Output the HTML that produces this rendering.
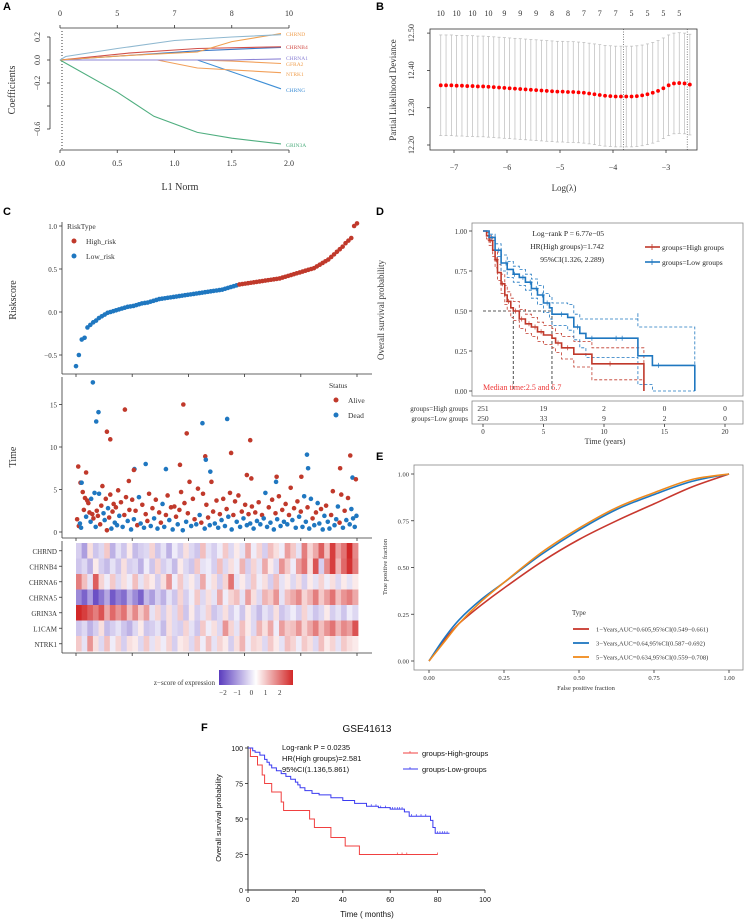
<!DOCTYPE html>
<html><head><meta charset="utf-8"><style>
html,body{margin:0;padding:0;background:#fff;}
svg{display:block;font-family:"Liberation Serif",serif;}
.s{font-family:"Liberation Sans",sans-serif;}
</style></head><body>
<svg id="fig" width="744" height="922" viewBox="0 0 744 922" xmlns="http://www.w3.org/2000/svg"></svg>
<script>
// ---------- DATA ----------
const geneCHRND=[[0,0],[0.6,0.04],[1.2,0.07],[1.5,0.16],[1.93,0.23]];
const geneTop=[[0,0],[0.05,0.03],[0.5,0.1],[1,0.17],[1.5,0.2],[1.93,0.22]];
const geneCHRNB4=[[0,0],[0.6,0.06],[1.2,0.1],[1.93,0.115]];
const geneCHRNB=[[0,0],[1.2,0.08],[1.93,0.11]];
const geneCHRNA1=[[0,0],[1.5,0],[1.93,0.01]];
const geneGFRA2=[[0,0],[1.2,0],[1.5,-0.01],[1.93,-0.03]];
const geneNTRK1=[[0,0],[0.85,0],[1.2,-0.07],[1.93,-0.11]];
const geneCHRNG=[[0,0],[1.2,0],[1.93,-0.25]];
const geneGRIN3A=[[0,0],[0.5,-0.28],[0.82,-0.49],[1.2,-0.63],[1.5,-0.68],[1.93,-0.73]];
const aTopLabels=["0","5","7","8","10"];
const aTopPos=[0,0.5,1,1.5,2];
const bLambda=[];for(let i=0;i<48;i++)bLambda.push(-7.25+i*0.1);
const bDeviance=[12.360,12.360,12.360,12.359,12.359,12.358,12.358,12.357,12.357,12.356,12.355,12.354,12.353,12.352,12.351,12.350,12.349,12.348,12.347,12.346,12.345,12.344,12.343,12.343,12.342,12.342,12.341,12.340,12.338,12.336,12.334,12.332,12.331,12.330,12.330,12.330,12.330,12.331,12.333,12.336,12.340,12.345,12.352,12.360,12.365,12.366,12.365,12.362];
const bSE=0.135;
const bTopCounts=["10","10","10","10","9","9","9","8","8","7","7","7","5","5","5","5"];
const bMinLambda=-3.8, b1seLambda=-2.6;
const riskScores=[-0.63,-0.5,-0.32,-0.3,-0.18,-0.15,-0.12,-0.1,-0.07,-0.05,-0.03,-0.01,0.0,0.01,0.02,0.03,0.04,0.05,0.06,0.065,0.07,0.08,0.09,0.1,0.105,0.11,0.12,0.13,0.14,0.15,0.155,0.16,0.165,0.17,0.175,0.18,0.185,0.19,0.195,0.2,0.205,0.21,0.215,0.22,0.225,0.23,0.235,0.24,0.245,0.25,0.255,0.26,0.27,0.28,0.29,0.3,0.31,0.32,0.325,0.33,0.335,0.34,0.345,0.35,0.355,0.36,0.365,0.37,0.375,0.38,0.385,0.39,0.4,0.41,0.42,0.43,0.44,0.45,0.46,0.47,0.48,0.49,0.5,0.51,0.53,0.55,0.57,0.59,0.61,0.64,0.67,0.7,0.73,0.76,0.8,0.83,0.86,1.0,1.03];
const riskCutoff=0.315;
const survTimes=[[30,17.6,1],[36,13.0,1],[40,14.1,1],[55,11.8,0],[61,10.9,0],[87,14.4,0],[191,15.0,0],[197,11.6,0],[225,12.8,1],[269,13.3,1],[310,10.8,0],[276,9.3,0],[411,9.1,1],[488,9.0,0],[413,7.5,1],[470,7.5,0],[4,7.7,0],[18,7.0,0],[104,7.4,1],[124,8.0,1],[160,7.4,1],[185,7.9,0],[230,8.9,0],[231,8.5,1],[239,7.1,1],[492,6.4,1],[498,6.2,0],[304,6.7,0],[312,6.3,0],[357,6.5,0],[356,5.9,1],[401,6.5,0],[94,6.0,0],[103,7.3,0],[8,5.8,0],
[2,1.5,0],[5,0.7,0],[7,1,1],[9,0.5,1],[10,5.8,1],[12,4.7,0],[14,2.6,0],[16,4,0],[18,1.8,1],[20,3.7,0],[22,3.4,0],[24,2.3,0],[26,1.2,1],[27,3.9,1],[29,2.1,0],[31,1.6,0],[33,4.6,1],[35,0.6,1],[37,2.5,0],[39,1.9,0],[41,4.5,1],[43,0.9,0],[45,3.1,0],[47,5.4,0],[49,2.2,1],[51,1.4,1],[53,3.9,0],[55,0.2,0],[57,2.8,1],[59,1.7,0],[61,4.4,0],[63,0.4,1],[65,2.4,0],[67,3.3,0],[69,1.1,1],[71,2.9,0],[73,0.8,1],[75,4.9,0],[77,1.9,1],[80,3.5,0],[83,0.6,1],[86,2.0,0],[89,4.1,0],[92,1.3,1],[95,2.6,0],[98,0.3,1],[100,3.8,0],[103,1.5,1],[106,2.5,0],[109,0.8,0],[112,4.1,1],[115,1.0,1],[118,3.2,0],[121,0.5,1],[124,2.1,0],[127,1.3,0],[130,4.5,0],[133,0.7,1],[136,2.8,0],[139,1.6,1],[142,3.8,0],[145,0.4,1],[148,2.3,0],[151,1.1,0],[154,3.3,1],[157,0.6,1],[160,2.0,0],[163,4.3,0],[166,1.4,1],[169,2.9,0],[172,0.3,1],[175,3.0,0],[178,1.8,0],[181,0.9,1],[184,2.6,0],[187,4.7,0],[190,0.2,1],[193,3.4,0],[196,1.2,1],[199,2.2,0],[202,5.9,0],[205,0.7,1],[208,3.9,0],[211,1.5,0],[214,0.9,1],[217,5.1,0],[220,2.0,1],[223,1.1,0],[226,4.5,0],[229,0.4,1],[232,3.2,0],[235,1.7,0],[238,0.8,1],[241,5.9,0],[244,2.4,0],[247,1.0,1],[250,3.7,0],[253,0.5,1],[256,2.1,0],[259,1.4,1],[262,3.9,0],[265,0.7,1],[268,2.7,0],[271,1.8,1],[274,4.6,0],[277,0.3,1],[280,2.0,0],[283,3.6,0],[286,1.2,1],[289,4.3,0],[292,0.6,1],[295,2.4,0],[298,1.6,1],[301,3.2,0],[304,0.8,1],[307,2.1,0],[310,1.0,1],[313,3.0,0],[316,0.4,1],[319,2.3,0],[322,1.3,1],[325,3.5,0],[328,0.9,1],[331,2.0,0],[334,1.6,1],[337,4.6,1],[340,0.6,1],[343,2.9,0],[346,1.1,1],[349,3.8,0],[352,0.3,1],[355,2.2,0],[358,1.5,1],[361,4.2,0],[364,0.7,1],[367,2.6,0],[370,1.2,1],[373,3.3,0],[376,0.9,1],[379,2.0,0],[382,5.2,0],[385,1.4,1],[388,2.8,0],[391,0.5,1],[394,3.6,0],[397,1.8,1],[400,2.4,0],[403,0.6,1],[406,4.2,1],[409,1.2,1],[412,2.9,0],[415,0.4,1],[418,3.9,1],[421,1.6,0],[424,0.8,1],[427,2.3,0],[430,3.4,1],[433,1.0,1],[436,2.7,0],[439,0.3,1],[442,1.9,1],[445,3.1,0],[448,1.2,1],[451,0.4,1],[454,2.0,0],[457,4.8,0],[460,0.8,1],[463,1.5,1],[466,3.0,1],[469,1.1,0],[472,4.4,0],[475,0.5,1],[478,2.5,0],[481,1.4,1],[484,4.0,0],[487,0.9,1],[490,2.7,1],[493,1.6,1],[496,0.6,1],[499,1.9,1]];
const heatGenes=["CHRND","CHRNB4","CHRNA6","CHRNA5","GRIN3A","L1CAM","NTRK1"];
const heatCHRND=[-0.5,-1,0.3,-0.6,-0.4,0.5,-0.8,-0.3,-0.6,0.2,-0.7,-0.5,-0.4,0.4,-0.6,-0.3,-0.8,-0.2,-0.5,0.3,-0.4,-0.6,0.6,-0.3,-0.5,-0.2,0.5,-0.4,0.2,-0.3,0.8,-0.2,0.4,-0.5,0.6,0.3,-0.2,0.9,0.5,-0.3,1.2,0.4,0.8,1.5,0.6,1.8,0.9,1.3,2,1.1];
const heatCHRNB4=[-0.6,-0.4,-0.8,0.2,-0.5,-0.7,-0.3,-0.6,0.3,-0.5,-0.4,-0.8,-0.2,-0.6,0.4,-0.5,-0.3,-0.7,0.2,-0.4,-0.6,0.5,-0.3,-0.2,-0.5,0.6,-0.4,0.3,-0.2,0.7,-0.5,0.4,-0.3,0.8,0.2,-0.4,1,0.5,-0.2,0.9,1.3,0.3,1.6,-0.5,1.1,1.8,0.7,1.4,1.9,1.2];
const heatCHRNA6=[1.2,0.6,-0.3,1.5,0.4,-0.2,0.5,-0.4,0.3,-0.2,0.6,-0.3,0.4,0.2,-0.5,0.3,1,-0.2,0.5,-0.3,0.2,-0.4,0.8,-0.2,0.3,-0.5,0.4,1.3,-0.3,0.2,-0.4,0.5,-0.2,0.3,-0.5,0.6,-0.3,0.2,-0.4,0.3,-0.5,0.2,-0.3,0.4,-0.2,0.3,-0.4,0.2,-0.3,0.2];
const heatCHRNA5=[-1.2,-1.6,-1,-1.8,-1.4,-0.9,-1.7,-1.3,-1.5,-0.8,-1.2,-1.6,-0.7,-1,-0.5,-0.8,-0.3,-0.6,0.4,-0.5,-0.2,0.5,-0.4,0.3,-0.3,0.8,-0.2,0.4,0.6,-0.3,0.9,0.3,-0.4,0.7,0.5,1,-0.3,0.6,0.8,1.1,0.4,0.7,1.2,0.5,0.9,1.3,0.6,1,1.2,0.8];
const heatGRIN3A=[2,1.8,1.5,1.2,1.6,0.8,1.4,1,1.3,0.6,1.1,0.5,0.9,-0.3,0.4,-0.5,0.3,-0.4,0.5,-0.6,0.2,-0.5,-0.3,0.4,-0.6,-0.4,0.3,-0.5,-0.2,-0.6,0.2,-0.4,-0.7,-0.3,-0.5,0.3,-0.6,-0.4,-0.2,-0.5,0.4,-0.3,-0.6,-0.4,0.2,-0.5,-0.3,-0.6,-0.2,-0.4];
const heatL1CAM=[-0.6,-0.4,-0.8,-0.5,0.3,-0.7,-0.5,-0.3,-0.6,-0.8,-0.4,0.2,-0.6,-0.5,-0.3,-0.7,0.3,-0.4,-0.5,0.4,-0.3,-0.6,0.5,-0.2,0.3,-0.4,1,0.4,-0.3,0.6,0.2,-0.4,0.7,0.3,0.8,-0.2,0.9,0.5,0.6,1,0.4,0.8,1.2,0.6,1,1.3,0.7,1.1,0.9,1.6];
const heatNTRK1=[0.5,-0.3,1,0.3,-0.4,0.6,-0.2,0.4,-0.5,0.3,0.2,-0.4,0.5,-0.3,0.3,-0.2,0.4,-0.5,0.2,0.3,-0.4,0.5,-0.2,0.6,-0.3,0.4,0.2,-0.5,0.3,0.7,-0.2,0.4,0.3,-0.4,0.5,0.2,-0.3,0.6,0.4,-0.2,0.5,0.3,-0.4,0.6,0.2,0.4,-0.3,0.5,0.3,0.2];
const kmHigh=[[0,1],[0.3,0.97],[0.5,0.94],[0.8,0.88],[1,0.82],[1.2,0.74],[1.5,0.67],[1.8,0.6],[2,0.56],[2.3,0.52],[2.5,0.5],[3,0.45],[3.5,0.42],[4,0.4],[4.5,0.37],[5,0.35],[5.7,0.33],[6,0.3],[6.5,0.27],[7.5,0.23],[9,0.17],[13.3,0.17],[13.3,0]];
const kmHighCI=[0,0.02,0.03,0.04,0.05,0.05,0.06,0.06,0.06,0.06,0.06,0.06,0.06,0.06,0.06,0.06,0.06,0.06,0.07,0.08,0.1,0.1,0];
const kmLow=[[0,1],[0.5,0.96],[1,0.88],[1.5,0.8],[2,0.76],[2.5,0.73],[3,0.71],[3.5,0.68],[4,0.64],[4.5,0.6],[5,0.55],[5.5,0.52],[5.7,0.48],[7,0.46],[7.5,0.4],[8,0.36],[8.5,0.33],[12.8,0.33],[12.8,0.22],[14,0.16],[17.5,0.16],[17.5,0]];
const kmLowCI=[0,0.02,0.04,0.05,0.05,0.05,0.05,0.05,0.06,0.06,0.06,0.07,0.07,0.08,0.08,0.09,0.12,0.16,0.18,0.24,0.24,0];
const kmHighCens=[0.6,1.1,1.6,2.1,2.7,3.2,3.8,4.3,4.8,6.2,7,10.5];
const kmLowCens=[0.7,1.3,1.9,2.6,3.3,3.9,4.4,4.9,5.3,6.5,7.8,9,11,11.5,14.5];
const riskHigh=["251","19","2","0","0"];
const riskLow=["250","33","9","2","0"];
const dTicks=[0,5,10,15,20];
const rocFpr=[0,0.05,0.1,0.175,0.25,0.375,0.5,0.625,0.75,0.875,1];
const roc1=[0,0.11,0.2,0.3,0.39,0.53,0.65,0.75,0.84,0.93,1];
const roc3=[0,0.12,0.22,0.33,0.42,0.57,0.7,0.81,0.89,0.96,1];
const roc5=[0,0.1,0.2,0.32,0.42,0.58,0.71,0.82,0.9,0.97,1];
const fHigh=[[0,100],[1,94],[4,88],[6,81],[7,75],[10,69],[14,62],[15,56],[26,50],[28,44],[35,37],[41,31],[47,25],[80,25]];
const fLow=[[0,100],[2,98],[3,97],[5,95],[7,92],[8,90],[9,88],[10,86],[12,84],[14,82],[16,80],[18,78],[20,76],[21,74],[22,72],[24,70],[27,68],[30,67],[35,65],[40,63],[45,61],[50,59],[55,58],[60,57],[66,55],[68,52],[75,52],[77,49],[78,44],[79,40],[85,40]];
const fHighCens=[63,65,67,80];
const fLowCens=[52,54,56,58,60,61,62,63,64,65,66,69,71,73,75,80,81,82,83,84];
const fYTicks=[0,25,50,75,100];
const fXTicks=[0,20,40,60,80,100];

// ---------- HELPERS ----------
const svg=document.getElementById('fig');
const NS='http://www.w3.org/2000/svg';
function el(tag,attrs,name,parent){
  const e=document.createElementNS(NS,tag);
  for(const k in attrs)e.setAttribute(k,attrs[k]);
  
  
  (parent||svg).appendChild(e);return e;
}
function txt(x,y,s,name,o){
  o=o||{};
  const a={x:x,y:y,'font-size':o.fs||8,fill:o.fill||'#333','text-anchor':o.anchor||'start'};
  if(o.rot)a.transform='rotate('+o.rot+' '+x+' '+y+')';
  if(o.cls)a['class']=o.cls;
  if(o.weight)a['font-weight']=o.weight;
  const t=el('text',a,name);t.textContent=s;return t;
}
function line(x1,y1,x2,y2,name,st,w,dash){
  const a={x1:x1,y1:y1,x2:x2,y2:y2,stroke:st||'#333','stroke-width':w||0.8};
  if(dash)a['stroke-dasharray']=dash;return el('line',a,name);
}
function poly(pts,name,st,w,dash){
  const a={points:pts.map(p=>p[0].toFixed(1)+','+p[1].toFixed(1)).join(' '),fill:'none',stroke:st,'stroke-width':w};
  if(dash)a['stroke-dasharray']=dash;return el('polyline',a,name);
}
function stepPts(data,xf,yf,off){
  off=off||(()=>0);const out=[];
  data.forEach((p,i)=>{const y=yf(Math.max(0,p[1]+off(i)));
    if(i>0)out.push([xf(p[0]),out[out.length-1][1]]);out.push([xf(p[0]),y]);});
  return out;
}
function label(x,y,s){txt(x,y,s,'panel-label-'+s.toLowerCase(),{fs:11,fill:'#000',cls:'s',weight:'bold'});}

// ---------- PANEL A ----------
label(3,10,'A');
const ax=L=>60+L*114.5, ay=c=>60-c*115;
line(ax(0),28,ax(2),28,'a-top-axis');
aTopPos.forEach((p,i)=>{line(ax(p),28,ax(p),25,'a-top-tick');txt(ax(p),16,aTopLabels[i],'a-top-label',{anchor:'middle'});});
line(50,ay(0.2),50,ay(-0.6),'a-y-axis');
[0.2,0,-0.2,-0.4,-0.6].forEach(v=>{line(47,ay(v),50,ay(v),'a-y-tick');});
[[0.2,'0.2'],[0,'0.0'],[-0.2,'−0.2'],[-0.6,'−0.6']].forEach(v=>txt(40,ay(v[0]),v[1],'a-y-tick-label',{anchor:'middle',rot:-90}));
line(ax(0),150,ax(2),150,'a-x-axis');
[0,0.5,1,1.5,2].forEach(v=>{line(ax(v),150,ax(v),153,'a-x-tick');txt(ax(v),166,v.toFixed(1),'a-x-tick-label',{anchor:'middle'});});
txt(180,190,'L1 Norm','a-x-title',{anchor:'middle',fs:10});
txt(15,90,'Coefficients','a-y-title',{anchor:'middle',fs:10,rot:-90});
line(62,31,62,150,'a-lambda-line','#222',0.9,'1,2');
const aSeries=[[geneGRIN3A,'#4fae7f','GRIN3A'],[geneCHRNG,'#3f8fd6','CHRNG'],[geneNTRK1,'#f2a05a','NTRK1'],[geneGFRA2,'#f2a05a','GFRA2'],[geneCHRNA1,'#8e84d6','CHRNA1'],[geneCHRNB,'#3a78c8','CHRNB2'],[geneCHRNB4,'#d2504a','CHRNB4'],[geneCHRND,'#f0a050','CHRND'],[geneTop,'#8fb8d0','CHRNB3']];
aSeries.forEach(s=>poly(s[0].map(p=>[ax(p[0]),ay(p[1])]),'a-path-'+s[2].toLowerCase(),s[1],1.1));
[['CHRND',34,'#f0a050'],['CHRNB4',47,'#d2504a'],['CHRNA1',58,'#8e84d6'],['GFRA2',64,'#f0a050'],['NTRK1',74,'#f0a050'],['CHRNG',90,'#3f8fd6'],['GRIN3A',145,'#4fae7f']].forEach(g=>txt(286,g[1]+2,g[0],'a-gene-label',{fs:5.5,fill:g[2]}));

// ---------- PANEL B ----------
label(376,10,'B');
const bx=l=>454+(l+7)*53, by=v=>145-(v-12.2)*373;
el('rect',{x:430,y:29,width:267,height:121,fill:'none',stroke:'#333','stroke-width':0.8},'b-frame');
bLambda.forEach((l,i)=>{const x=bx(l),hi=by(bDeviance[i]+bSE),lo=by(bDeviance[i]-bSE);
  line(x,hi,x,lo,'b-error-bar','#bbb',0.7);line(x-1.5,hi,x+1.5,hi,'b-error-cap','#bbb',0.7);line(x-1.5,lo,x+1.5,lo,'b-error-cap','#bbb',0.7);});
bLambda.forEach((l,i)=>el('circle',{cx:bx(l),cy:by(bDeviance[i]),r:1.9,fill:'#f00'},'b-deviance-point'));
line(bx(bMinLambda),29,bx(bMinLambda),150,'b-min-lambda','#333',0.6,'1,1.5');
line(bx(b1seLambda),29,bx(b1seLambda),150,'b-1se-lambda','#333',0.6,'1,1.5');
bTopCounts.forEach((c,i)=>txt(bx(bLambda[i*3]),16,c,'b-top-count',{anchor:'middle'}));
[12.2,12.3,12.4,12.5].forEach(v=>{line(427,by(v),430,by(v),'b-y-tick');txt(414,by(v),v.toFixed(2),'b-y-tick-label',{anchor:'middle',rot:-90});});
[-7,-6,-5,-4,-3].forEach(v=>{line(bx(v),150,bx(v),153,'b-x-tick');txt(bx(v),170,'−'+Math.abs(v),'b-x-tick-label',{anchor:'middle'});});
txt(564,191,'Log(λ)','b-x-title',{anchor:'middle',fs:9});
txt(396,90,'Partial Likelihood Deviance','b-y-title',{anchor:'middle',fs:9,rot:-90});

// ---------- PANEL C ----------
label(3,215,'C');
const cxI=i=>76+i/(riskScores.length-1)*281, cyR=v=>312-v*86;
line(62,222,62,374,'c-risk-y-axis');line(62,374,372,374,'c-risk-x-axis');
[[1,'1.0'],[0.5,'0.5'],[0,'0.0'],[-0.5,'−0.5']].forEach(v=>{line(59,cyR(v[0]),62,cyR(v[0]),'c-risk-y-tick');txt(57,cyR(v[0])+3,v[1],'c-risk-y-tick-label',{anchor:'end',fs:7});});
[0,1,2,3,4,5].forEach(k=>line(76+k*56.2,374,76+k*56.2,377,'c-risk-x-tick'));
riskScores.forEach((v,i)=>el('circle',{cx:cxI(i),cy:cyR(v),r:2.3,fill:v<riskCutoff?'#1f77c0':'#c0392b'},'c-riskscore-point'));
txt(16,300,'Riskscore','c-risk-y-title',{anchor:'middle',fs:10,rot:-90});
txt(67,229,'RiskType','c-risk-legend-title',{fs:7.5});
el('circle',{cx:74,cy:241,r:2.5,fill:'#c0392b'},'c-legend-high-dot');txt(86,244,'High_risk','c-legend-high',{fs:7.5});
el('circle',{cx:74,cy:256,r:2.5,fill:'#1f77c0'},'c-legend-low-dot');txt(86,259,'Low_risk','c-legend-low',{fs:7.5});
const cxP=p=>76+p/500*281, cyT=t=>532-t*8.5;
line(62,377,62,538,'c-time-y-axis');line(62,538,372,538,'c-time-x-axis');
[0,5,10,15].forEach(v=>{line(59,cyT(v),62,cyT(v),'c-time-y-tick');txt(57,cyT(v)+3,String(v),'c-time-y-tick-label',{anchor:'end',fs:7});});
[0,1,2,3,4,5].forEach(k=>line(76+k*56.2,538,76+k*56.2,541,'c-time-x-tick'));
survTimes.forEach(p=>el('circle',{cx:cxP(p[0]),cy:cyT(p[1]),r:2.3,fill:p[2]?'#1f77c0':'#c0392b'},'c-time-point'));
txt(16,457,'Time','c-time-y-title',{anchor:'middle',fs:10,rot:-90});
txt(329,388,'Status','c-status-legend-title',{fs:7.5});
el('circle',{cx:336,cy:400,r:2.5,fill:'#c0392b'},'c-legend-alive-dot');txt(348,403,'Alive','c-legend-alive',{fs:7.5});
el('circle',{cx:336,cy:415,r:2.5,fill:'#1f77c0'},'c-legend-dead-dot');txt(348,418,'Dead','c-legend-dead',{fs:7.5});
function heatColor(v){const t=Math.min(Math.abs(v)/2,1);const c=v<0?[90,60,190]:[210,40,40];
  return 'rgb('+c.map(k=>Math.round(255+(k-255)*t)).join(',')+')';}
const heatRows=[heatCHRND,heatCHRNB4,heatCHRNA6,heatCHRNA5,heatGRIN3A,heatL1CAM,heatNTRK1];
const hTop=543,hRow=15.5,hL=76,hW=282;
line(62,541,62,653,'c-heat-y-axis');line(62,653,372,653,'c-heat-x-axis');
[0,1,2,3,4,5].forEach(k=>line(76+k*56.2,653,76+k*56.2,656,'c-heat-x-tick'));
heatRows.forEach((row,r)=>{const cw=hW/row.length;
  row.forEach((v,c)=>el('rect',{x:(hL+c*cw).toFixed(2),y:hTop+r*hRow,width:(cw+0.4).toFixed(2),height:hRow,fill:heatColor(v)},'c-heat-cell'));
  line(59,hTop+r*hRow+hRow/2,62,hTop+r*hRow+hRow/2,'c-heat-tick');
  txt(57,hTop+r*hRow+hRow/2+3,heatGenes[r],'c-heat-gene-label',{anchor:'end',fs:7});});
const grad=el('linearGradient',{id:'zg',x1:0,x2:1,y1:0,y2:0},'colorbar-gradient');
[['0%','rgb(90,60,190)'],['50%','#fff'],['100%','rgb(210,40,40)']].forEach(s=>el('stop',{offset:s[0],'stop-color':s[1]},'gradient-stop',grad));
el('rect',{x:219,y:670,width:74,height:15,fill:'url(#zg)'},'c-colorbar');
txt(215,685,'z−score of expression','c-colorbar-title',{anchor:'end',fs:7});
['−2','−1','0','1','2'].forEach((s,i)=>txt(223+i*14.2,695,s,'c-colorbar-label',{anchor:'middle',fs:7}));

// ---------- PANEL D ----------
label(376,215,'D');
const dx=t=>483+t*12.1, dy=s=>391-s*160;
el('rect',{x:472,y:223,width:271,height:173,fill:'none',stroke:'#888','stroke-width':0.8},'d-frame');
[0,0.25,0.5,0.75,1].forEach(v=>{line(469,dy(v),472,dy(v),'d-y-tick');txt(467,dy(v)+3,v.toFixed(2),'d-y-tick-label',{anchor:'end',fs:7});});
line(dx(0),dy(0.5),dx(5.7),dy(0.5),'d-median-h','#222',0.8,'3,2');
line(dx(2.5),dy(0.5),dx(2.5),dy(0),'d-median-high','#222',0.8,'3,2');
line(dx(5.7),dy(0.5),dx(5.7),dy(0),'d-median-low','#222',0.8,'3,2');
poly(stepPts(kmHigh,dx,dy,i=>kmHighCI[i]),'d-high-ci-upper','#c0392b',0.8,'3,2');
poly(stepPts(kmHigh,dx,dy,i=>-kmHighCI[i]),'d-high-ci-lower','#c0392b',0.8,'3,2');
poly(stepPts(kmLow,dx,dy,i=>kmLowCI[i]),'d-low-ci-upper','#1f77c0',0.8,'3,2');
poly(stepPts(kmLow,dx,dy,i=>-kmLowCI[i]),'d-low-ci-lower','#1f77c0',0.8,'3,2');
poly(stepPts(kmHigh,dx,dy),'d-high-curve','#c0392b',1.6);
poly(stepPts(kmLow,dx,dy),'d-low-curve','#1f77c0',1.6);
function survAt(d,t){let s=1;d.forEach(p=>{if(p[0]<=t)s=p[1];});return s;}
kmHighCens.forEach(t=>{const x=dx(t),y=dy(survAt(kmHigh,t));line(x,y-2.5,x,y+2.5,'d-high-censor','#c0392b',0.7);line(x-2.5,y,x+2.5,y,'d-high-censor-h','#c0392b',0.7);});
kmLowCens.forEach(t=>{const x=dx(t),y=dy(survAt(kmLow,t));line(x,y-2.5,x,y+2.5,'d-low-censor','#1f77c0',0.7);line(x-2.5,y,x+2.5,y,'d-low-censor-h','#1f77c0',0.7);});
txt(483,390,'Median time:2.5 and 5.7','d-median-text',{fs:8,fill:'#e33'});
txt(604,236,'Log−rank P = 6.77e−05','d-logrank',{anchor:'end',fs:7.5,fill:'#222'});
txt(604,249,'HR(High groups)=1.742','d-hr',{anchor:'end',fs:7.5,fill:'#222'});
txt(604,262,'95%CI(1.326, 2.289)','d-ci',{anchor:'end',fs:7.5,fill:'#222'});
line(645,247,660,247,'d-legend-high-line','#c0392b',1.6);line(652,244,652,250,'d-legend-high-tick','#c0392b',0.8);
txt(662,250,'groups=High groups','d-legend-high',{fs:7.5,fill:'#222'});
line(645,262,660,262,'d-legend-low-line','#1f77c0',1.6);line(652,259,652,265,'d-legend-low-tick','#1f77c0',0.8);
txt(662,265,'groups=Low groups','d-legend-low',{fs:7.5,fill:'#222'});
txt(384,310,'Overall survival probability','d-y-title',{anchor:'middle',fs:9,rot:-90});
el('rect',{x:472,y:401,width:271,height:23,fill:'none',stroke:'#888','stroke-width':0.8},'d-risk-table-frame');
dTicks.forEach((t,i)=>{txt(dx(t),411,riskHigh[i],'d-risk-high',{anchor:'middle',fs:7.5});txt(dx(t),421,riskLow[i],'d-risk-low',{anchor:'middle',fs:7.5});
  line(dx(t),424,dx(t),427,'d-x-tick');txt(dx(t),434,String(t),'d-x-tick-label',{anchor:'middle',fs:7});});
txt(468,411,'groups=High groups','d-risk-label-high',{anchor:'end',fs:7});
txt(468,421,'groups=Low groups','d-risk-label-low',{anchor:'end',fs:7});
txt(605,444,'Time (years)','d-x-title',{anchor:'middle',fs:8});

// ---------- PANEL E ----------
label(376,460,'E');
const ex=f=>429+f*300, ey=t=>661-t*187;
el('rect',{x:414,y:465,width:329,height:205,fill:'none',stroke:'#888','stroke-width':0.8},'e-frame');
[0,0.25,0.5,0.75,1].forEach(v=>{line(411,ey(v),414,ey(v),'e-y-tick');txt(409,ey(v)+2.5,v.toFixed(2),'e-y-tick-label',{anchor:'end',fs:6.5});
  line(ex(v),670,ex(v),673,'e-x-tick');txt(ex(v),680,v.toFixed(2),'e-x-tick-label',{anchor:'middle',fs:6.5});});
function smooth(ys){const p=rocFpr.map((f,i)=>[ex(f),ey(ys[i])]);let d='M'+p[0][0]+','+p[0][1];
  for(let i=0;i<p.length-1;i++){const p0=p[i-1]||p[i],p1=p[i],p2=p[i+1],p3=p[i+2]||p2;
    d+=' C'+(p1[0]+(p2[0]-p0[0])/6).toFixed(1)+','+(p1[1]+(p2[1]-p0[1])/6).toFixed(1)+' '+(p2[0]-(p3[0]-p1[0])/6).toFixed(1)+','+(p2[1]-(p3[1]-p1[1])/6).toFixed(1)+' '+p2[0].toFixed(1)+','+p2[1].toFixed(1);}
  return d;}
el('path',{d:smooth(roc1),fill:'none',stroke:'#c8382e','stroke-width':1.6},'e-roc-1year');
el('path',{d:smooth(roc3),fill:'none',stroke:'#1f77c0','stroke-width':1.6},'e-roc-3year');
el('path',{d:smooth(roc5),fill:'none',stroke:'#f08a1c','stroke-width':1.6},'e-roc-5year');
txt(572,615,'Type','e-legend-title',{fs:7});
[['#c8382e','1−Years,AUC=0.605,95%CI(0.549−0.661)',629],['#1f77c0','3−Years,AUC=0.64,95%CI(0.587−0.692)',643],['#f08a1c','5−Years,AUC=0.634,95%CI(0.559−0.708)',657]].forEach(l=>{
  line(573,l[2],589,l[2],'e-legend-line',l[0],1.8);txt(596,l[2]+2.5,l[1],'e-legend-entry',{fs:6.5});});
txt(586,690,'False positive fraction','e-x-title',{anchor:'middle',fs:6.5});
txt(387,567,'True positive fraction','e-y-title',{anchor:'middle',fs:6.5,rot:-90});

// ---------- PANEL F ----------
label(201,731,'F');
const fx=m=>248+m*2.37, fy=p=>890-p*1.42;
txt(367,732,'GSE41613','f-title',{anchor:'middle',fs:10,cls:'s',fill:'#111'});
line(248,746,248,890,'f-y-axis','#222',0.9);line(248,890,485,890,'f-x-axis','#222',0.9);
fYTicks.forEach(v=>{line(245,fy(v),248,fy(v),'f-y-tick','#222');txt(243,fy(v)+3,String(v),'f-y-tick-label',{anchor:'end',fs:7,cls:'s',fill:'#111'});});
fXTicks.forEach(v=>{line(fx(v),890,fx(v),893,'f-x-tick','#222');txt(fx(v),902,String(v),'f-x-tick-label',{anchor:'middle',fs:7,cls:'s',fill:'#111'});});
poly(stepPts(fHigh,fx,fy),'f-high-curve','#f04040',1);
poly(stepPts(fLow,fx,fy),'f-low-curve','#3a3af0',1);
fHighCens.forEach(t=>{const y=fy(survAt(fHigh,t));line(fx(t),y-2,fx(t),y,'f-high-censor','#f04040',0.7);});
fLowCens.forEach(t=>{const y=fy(survAt(fLow,t));line(fx(t),y-2,fx(t),y,'f-low-censor','#3a3af0',0.7);});
txt(282,750,'Log-rank P = 0.0235','f-logrank',{fs:7.5,cls:'s',fill:'#111'});
txt(282,761,'HR(High groups)=2.581','f-hr',{fs:7.5,cls:'s',fill:'#111'});
txt(282,772,'95%CI(1.136,5.861)','f-ci',{fs:7.5,cls:'s',fill:'#111'});
line(403,753,418,753,'f-legend-high-line','#f04040',1);line(410,751,410,753,'f-legend-high-tick','#f04040',0.7);
txt(422,756,'groups-High-groups','f-legend-high',{fs:7.5,cls:'s',fill:'#111'});
line(403,769,418,769,'f-legend-low-line','#3a3af0',1);line(410,767,410,769,'f-legend-low-tick','#3a3af0',0.7);
txt(422,772,'groups-Low-groups','f-legend-low',{fs:7.5,cls:'s',fill:'#111'});
txt(367,917,'Time ( months)','f-x-title',{anchor:'middle',fs:8,cls:'s',fill:'#111'});
txt(221,818,'Overall survival probability','f-y-title',{anchor:'middle',fs:7.5,cls:'s',fill:'#111',rot:-90});
</script>
</body></html>
